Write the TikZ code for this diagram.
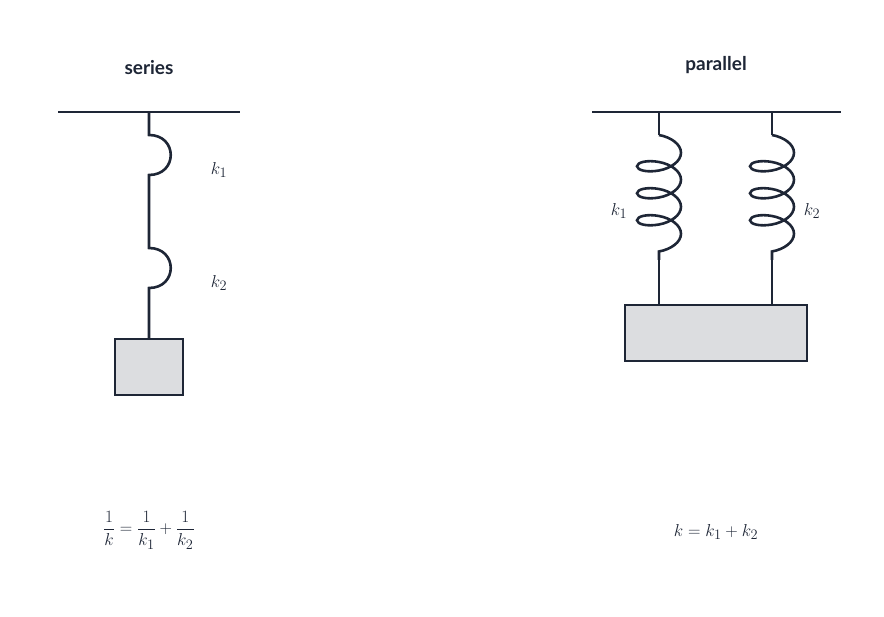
\documentclass[tikz,border=0pt]{standalone}
\usepackage{amsmath}
\usepackage{fontspec}
\newfontfamily\labfont{Lato}
\usetikzlibrary{decorations.pathmorphing}
\definecolor{ink}{HTML}{1E2636}
\definecolor{massfill}{HTML}{DCDDE0}
\begin{document}
\begin{tikzpicture}[x=1pt,y=-1pt,
  line/.style={draw=ink,line width=2.6pt},
  mass/.style={draw=ink,line width=2.2pt,fill=massfill},
  coilspring/.style={draw=ink,line width=2.6pt,decorate,decoration={coil,amplitude=22pt,segment length=27pt,aspect=0.5}},
  title/.style={font=\labfont\bfseries\fontsize{19}{22}\selectfont,text=ink},
  lab/.style={font=\fontsize{19}{22}\selectfont,text=ink}]
\useasboundingbox (0,0) rectangle (884,617);
% series
\node[title] (ts) at (149,68) {series};
\coordinate (sl) at (58,112); \coordinate (sr) at (240,112);
\draw[line] (sl) -- (sr);
\node[mass,minimum width=68pt,minimum height=56pt,inner sep=0pt] (m1) at (149,367) {};
\coordinate (s0) at (149,112);
\draw[line] (s0) -- (149,135) .. controls (178,135) and (178,175) .. (149,175)
  -- (149,248) .. controls (178,248) and (178,288) .. (149,288) -- (m1.north);
\node[lab] (k1s) at (219,170) {$k_1$};
\node[lab] (k2s) at (219,283) {$k_2$};
% parallel
\node[title] (tp) at (716,65) {parallel};
\coordinate (pl) at (592,112); \coordinate (pr) at (841,112);
\draw[line] (pl) -- (pr);
\node[mass,minimum width=182pt,minimum height=56pt,inner sep=0pt] (m2) at (716,333) {};
\foreach \x/\n in {659/a,772/b}{
  \coordinate (\n0) at (\x,112);
  \coordinate (\n1) at (\x,135);
  \coordinate (\n2) at (\x,260);
  \coordinate (\n3) at (\x,305);
  \draw[line] (\n0) -- (\n1);
  \draw[coilspring] (\n1) -- (\n2);
  \draw[line] (\n2) -- (\n3);
}
\node[lab] (k1p) at (619,211) {$k_1$};
\node[lab] (k2p) at (812,211) {$k_2$};
% formulas
\node[lab] (fs) at (149,530) {$\dfrac{1}{k}=\dfrac{1}{k_1}+\dfrac{1}{k_2}$};
\node[lab] (fp) at (716,532) {$k=k_1+k_2$};
\end{tikzpicture}
\end{document}
